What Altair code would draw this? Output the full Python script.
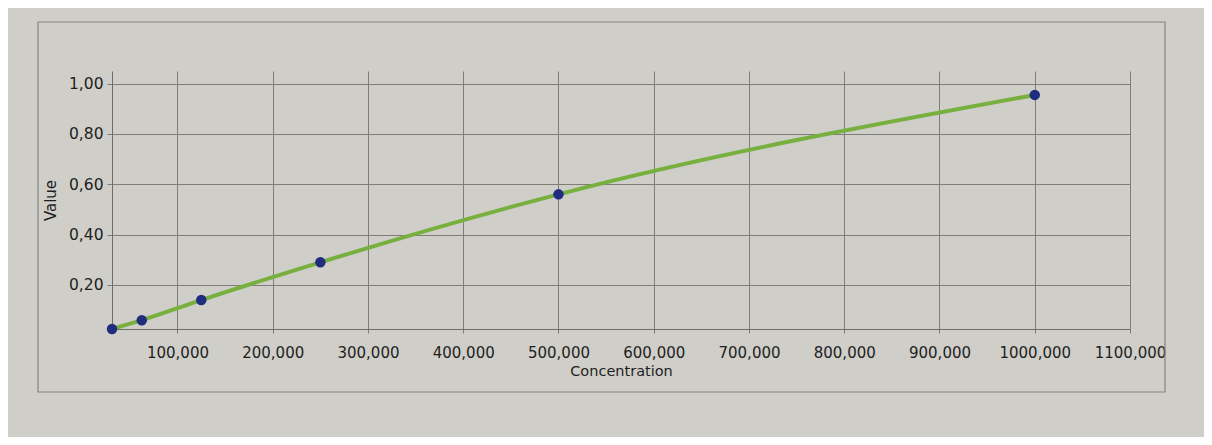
import altair as alt
import pandas as pd

# Data
concentration = [31250, 62500, 125000, 250000, 500000, 1000000]
value = [0.025, 0.06, 0.14, 0.29, 0.56, 0.955]

x_ticks = [100000, 200000, 300000, 400000, 500000, 600000, 700000, 800000, 900000, 1000000, 1100000]
y_ticks = [0.2, 0.4, 0.6, 0.8, 1.0]

df = pd.DataFrame({"Concentration": concentration, "Value": value})

FONT = "DejaVu Sans"
GRID = "#7e7d77"
TEXT = "#1e1e1e"
x_scale = alt.Scale(domain=[min(concentration), 1100000], nice=False, zero=False)
y_scale = alt.Scale(domain=[min(value), 1.05], nice=False, zero=False)

x_enc = alt.X(
    "Concentration:Q",
    scale=x_scale,
    axis=alt.Axis(
        values=x_ticks,
        labelExpr="toString(datum.value / 1000) + ',000'",
        title="Concentration",
        titleFont=FONT, titleFontSize=14.5, titleFontWeight="normal", titleColor=TEXT,
        titlePadding=4,
        labelFont=FONT, labelFontSize=15, labelColor=TEXT, labelPadding=12,
        labelFlush=False, labelOverlap=False,
        tickSize=4, tickColor=GRID, domainColor="#6e6d67",
        grid=True, gridColor=GRID, gridWidth=1,
    ),
)
y_enc = alt.Y(
    "Value:Q",
    scale=y_scale,
    axis=alt.Axis(
        values=y_ticks,
        labelExpr="replace(format(datum.value, '.2f'), '.', ',')",
        title="Value",
        titleFont=FONT, titleFontSize=15, titleFontWeight="normal", titleColor=TEXT,
        titlePadding=10,
        labelFont=FONT, labelFontSize=15.5, labelColor=TEXT, labelPadding=4,
        labelFlush=False, labelOverlap=False,
        tickSize=5, tickColor=GRID, domainColor="#6e6d67",
        grid=True, gridColor=GRID, gridWidth=1,
    ),
)

base = alt.Chart(df)

line = base.mark_line(color="#78b03f", strokeWidth=4, interpolate="monotone").encode(x=x_enc, y=y_enc)
pts = base.mark_circle(color="#1f2c80", size=110, opacity=1).encode(x="Concentration:Q", y="Value:Q")

frame = alt.Chart(pd.DataFrame({"f": [0]})).mark_rect(
    fill="transparent", stroke="#86857f", strokeWidth=1.2
).encode(
    x=alt.value(-74), x2=alt.value(1053), y=alt.value(-49), y2=alt.value(321)
)

chart = alt.layer(frame, line, pts).properties(
    width=1018, height=258,
    padding={"left": 104, "top": 63, "right": 74, "bottom": 108},
    autosize=alt.AutoSizeParams(type="none"),
    background="#cfcec8",
).configure_view(stroke=None)

chart.save("out.html", embed_options={"renderer": "svg", "actions": False})
